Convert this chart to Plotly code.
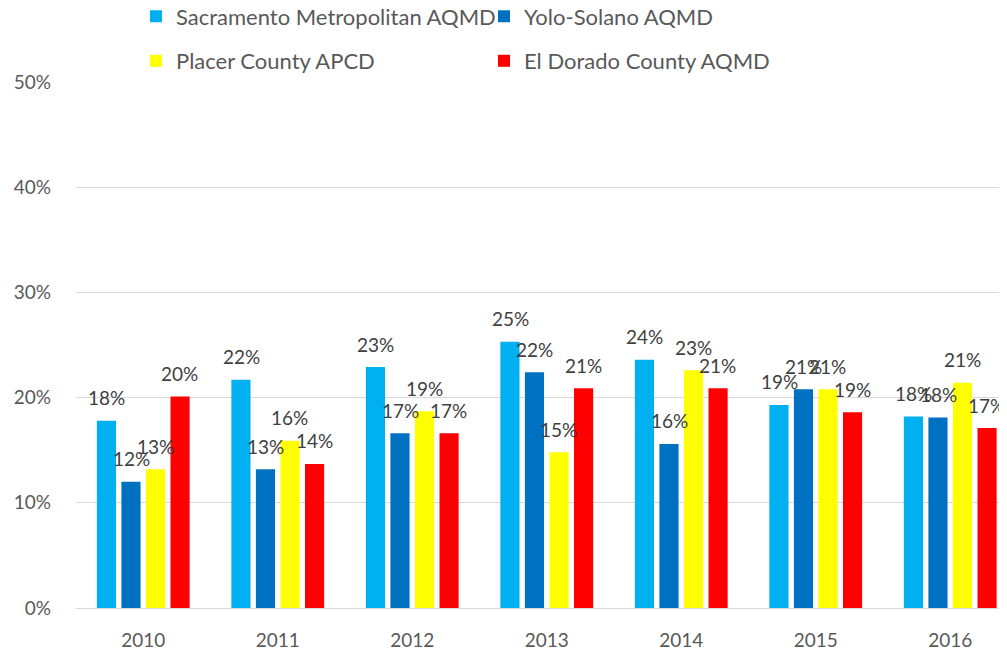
import plotly.graph_objects as go

years = ["2010", "2011", "2012", "2013", "2014", "2015", "2016"]
sacramento = [0.178, 0.217, 0.229, 0.253, 0.236, 0.193, 0.182]
yolo = [0.120, 0.132, 0.166, 0.224, 0.156, 0.208, 0.181]
placer = [0.132, 0.159, 0.187, 0.148, 0.226, 0.208, 0.214]
el_dorado = [0.201, 0.137, 0.166, 0.209, 0.209, 0.186, 0.171]

series = [
    ("Sacramento Metropolitan AQMD", sacramento, "#00B0F0", "legend"),
    ("Yolo-Solano AQMD", yolo, "#0070C0", "legend"),
    ("Placer County APCD", placer, "#FFFF00", "legend2"),
    ("El Dorado County AQMD", el_dorado, "#FF0000", "legend2"),
]

FONT = "Lato"
fig = go.Figure()
for name, vals, color, lg in series:
    fig.add_trace(go.Bar(x=years, y=vals, name=name, marker_color=color,
                         marker_line_width=0, legend=lg))

# data labels above bars
slot = 24.4
for i, (name, vals, color, lg) in enumerate(series):
    for j, v in enumerate(vals):
        fig.add_annotation(
            x=j, y=v, xref="x", yref="y", text=f"{round(v*100):.0f}%",
            showarrow=False, xshift=(i - 1.5) * slot, yshift=23,
            yanchor="middle", xanchor="center",
            font=dict(family=FONT, size=19, color="#404040"))

L, T, PH, PW = 68, 74, 526, 931
leg_font = dict(family=FONT, size=22, color="#595959")
fig.update_layout(
    width=1007, height=654,
    margin=dict(l=L, r=1007 - L - PW, t=T, b=654 - T - PH, autoexpand=False),
    paper_bgcolor="white", plot_bgcolor="white",
    barmode="group", bargap=0.27, bargroupgap=0.22,
    font=dict(family=FONT, size=19, color="#595959"),
    legend=dict(orientation="h", x=(128 - L) / PW, y=1 + (T + 12.5) / PH,
                xanchor="left", yanchor="top",
                entrywidth=303, font=leg_font, bgcolor="rgba(0,0,0,0)"),
    legend2=dict(orientation="h", x=(128 - L) / PW, y=1 + (T - 32) / PH,
                 xanchor="left", yanchor="top",
                 entrywidth=303, font=leg_font, bgcolor="rgba(0,0,0,0)"),
    xaxis=dict(type="category", range=[-0.5, 6.422], showgrid=False,
               showline=False, ticks="",
               tickfont=dict(family=FONT, size=19, color="#595959"),
               ticklabelstandoff=19),
    yaxis=dict(range=[0, 0.5], dtick=0.1, tickformat=".0%", showgrid=True,
               gridcolor="#D9D9D9", gridwidth=1.3, zeroline=True,
               zerolinecolor="#D9D9D9", zerolinewidth=1.3, showline=False,
               ticks="", tickfont=dict(family=FONT, size=19, color="#595959"),
               ticklabelstandoff=24),
)

fig.write_html("out.html")
